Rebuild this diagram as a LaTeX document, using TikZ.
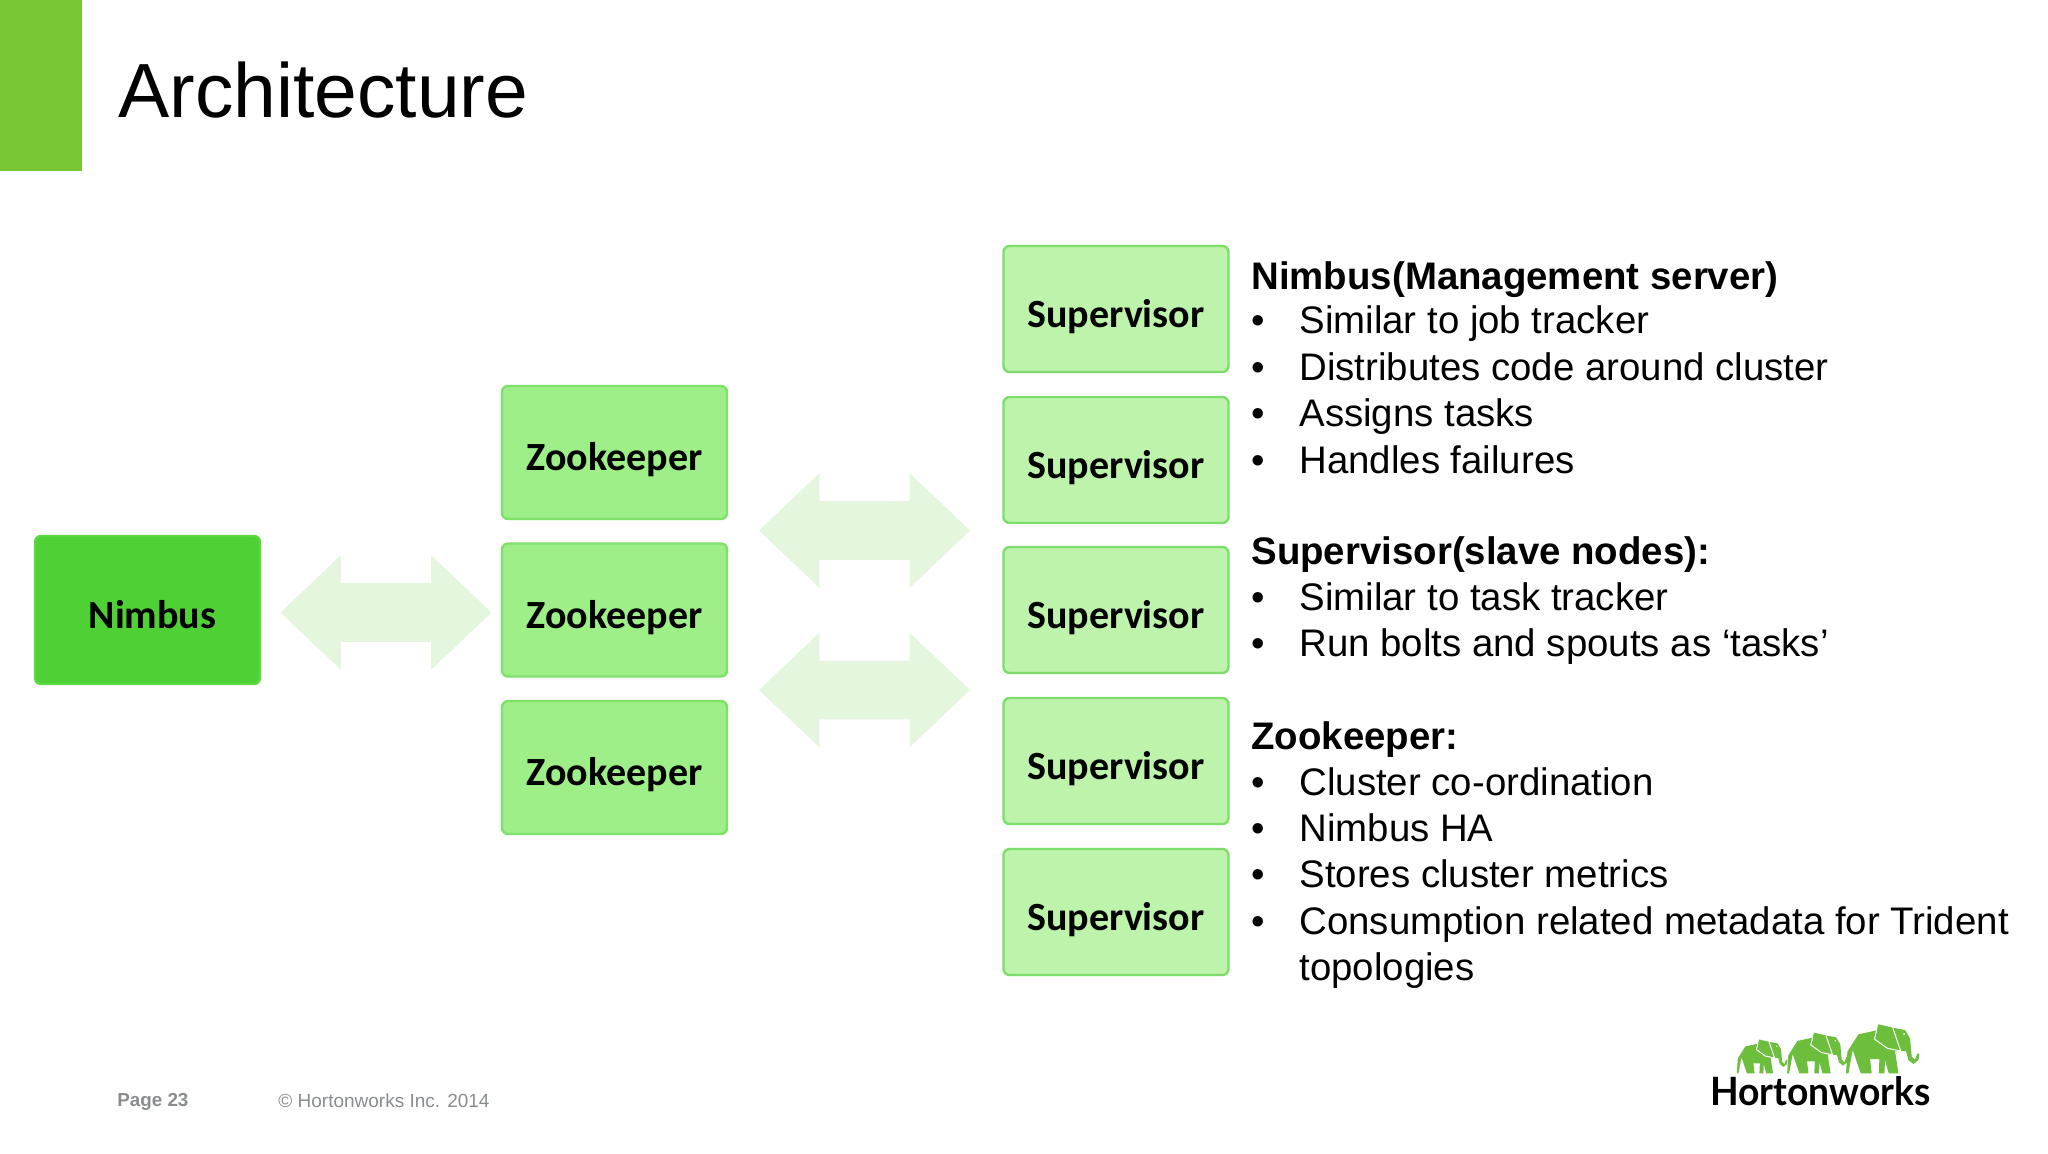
\documentclass[tikz,border=0pt]{standalone}
\usepackage{fontspec}
\setmainfont{Liberation Sans}
\newfontfamily\boxfont{Carlito}
\newfontfamily\logofont{Lato}
\usetikzlibrary{shapes.arrows}

\definecolor{barGreen}{HTML}{78C835}
\definecolor{nimbusFill}{HTML}{4FD135}
\definecolor{nimbusEdge}{HTML}{5CD843}
\definecolor{zkFill}{HTML}{9FEF88}
\definecolor{zkEdge}{HTML}{7FE06A}
\definecolor{supFill}{HTML}{BDF3AA}
\definecolor{supEdge}{HTML}{7FDD6C}
\definecolor{arrowFill}{HTML}{E4F6DE}
\definecolor{footGray}{HTML}{8A8D8F}
\definecolor{logoGreen}{HTML}{6CBE3C}

\begin{document}
\begin{tikzpicture}[x=0.5pt, y=-0.5pt]
	% --- Parametri ---
	\def\boxW{112.5pt}
	\def\zkH{66.5pt}
	\def\supH{63pt}
	
	% --- Stili ---
	\tikzset{
		block/.style={rectangle, rounded corners=3pt, line width=1.2pt, inner sep=0pt, minimum width=\boxW, text height=18pt, text depth=0pt, font=\boxfont\bfseries\fontsize{20}{24}\selectfont},
		nimbusbox/.style={block, draw=nimbusEdge, fill=nimbusFill, minimum height=74pt},
		zkbox/.style={block, draw=zkEdge, fill=zkFill, minimum height=\zkH},
		supbox/.style={block, draw=supEdge, fill=supFill, minimum height=\supH},
		flowarrow/.style={double arrow, draw=none, fill=arrowFill, inner xsep=0pt, inner ysep=14.5pt, minimum height=105.5pt, minimum width=57pt, double arrow head extend=14pt, double arrow tip angle=87},
		heading/.style={anchor=base west, inner sep=0pt, font=\bfseries\fontsize{19.2}{23}\selectfont},
		item/.style={anchor=base west, inner sep=0pt, font=\fontsize{19.2}{23}\selectfont},
		elephant/.pic={
			\fill[logoGreen] (0.7,-21.7) -- (11.7,-39) -- (30,-43) -- (31.7,-49) -- (46,-45.7) -- (58.3,-43.3) -- (63.3,-35) -- (65,-16.7) -- (68.3,-13.3) -- (70.7,-20) -- (72.7,-19) -- (71.7,-13.3) -- (66.7,-9.3) -- (61.7,-13.3) -- (59.3,-22.3) -- (48.3,-22.3) -- (51.7,0) -- (42,0) -- (38.3,-13.3) -- (37.7,0) -- (32,0) -- (32.7,-14.3) -- (23.3,-14.3) -- (25,0) -- (14,0) -- (6,-23.3) -- (1.7,0) -- (-0.7,0) -- cycle;
			\draw[white, line width=0.5pt, line join=round] (30,-43) -- (27.7,-34.3) -- (40.7,-25) -- (54,-22.3) -- (46,-45.7);
			\fill[white] (57.3,-39.3) circle (1);
		}
	}
	
	% --- Sfondo ---
	\useasboundingbox (0,0) rectangle (2048,1153);
	\fill[white] (0,0) rectangle (2048,1153);
	
	% --- Titolo ---
	\fill[barGreen] (0,0) rectangle (82,171);
	\node[anchor=base west, inner sep=0pt, font=\fontsize{38.4}{44}\selectfont] (title) at (118,117) {Architecture};
	
	% --- Blocchi ---
	\node[nimbusbox] (nimbus) at (147.5,610) {\hspace{5pt}Nimbus};
	\foreach \i/\y in {1/452.5, 2/610, 3/767.5}
		\node[zkbox] (zk\i) at (614.5,\y) {Zookeeper};
	\foreach \i/\y in {1/309, 2/460, 3/610, 4/761, 5/912}
		\node[supbox] (sup\i) at (1116,\y) {Supervisor};
	
	% --- Frecce ---
	\node[flowarrow] (arrowA) at (386,612.5) {};
	\node[flowarrow] (arrowB) at (864.5,530.5) {};
	\node[flowarrow] (arrowC) at (864.5,690) {};
	
	% --- Testo ---
	\node[heading] (headNimbus) at (1251,289) {Nimbus(Management server)};
	\node[heading] (headSup) at (1251,564.5) {Supervisor(slave nodes):};
	\node[heading] (headZk) at (1251,749.5) {Zookeeper:};
	\foreach \y/\t in {333.5/Similar to job tracker, 380/Distributes code around cluster, 426/Assigns tasks, 473/Handles failures, 610.5/Similar to task tracker, 656/Run bolts and spouts as ‘tasks’, 795/Cluster co-ordination, 841.5/Nimbus HA, 887/Stores cluster metrics, 934/Consumption related metadata for Trident}{
		\node[item] (dot\y) at (1251,\y) {•};
		\node[item] (line\y) at (1299,\y) {\t};
	}
	\node[item] (lineLast) at (1299,980) {topologies};
	
	% --- Piede ---
	\node[anchor=base west, inner sep=0pt, text=footGray, font=\bfseries\fontsize{9.4}{11}\selectfont] (page) at (117,1106.5) {Page 23};
	\node[anchor=base west, inner sep=0pt, text=footGray, font=\fontsize{9.5}{11}\selectfont] (copy) at (278,1107.5) {© Hortonworks Inc. 2014};
	
	% --- Logo ---
	\pic[scale=0.69] at (1737.3,1073.3) {elephant};
	\pic[scale=0.83] at (1787.7,1073.3) {elephant};
	\pic at (1846.7,1073.3) {elephant};
	\node[anchor=base west, inner sep=0pt, xscale=0.955, transform shape, font=\logofont\bfseries\fontsize{19.5}{24}\selectfont] (logo) at (1710,1105.5) {Hortonworks};
\end{tikzpicture}
\end{document}
